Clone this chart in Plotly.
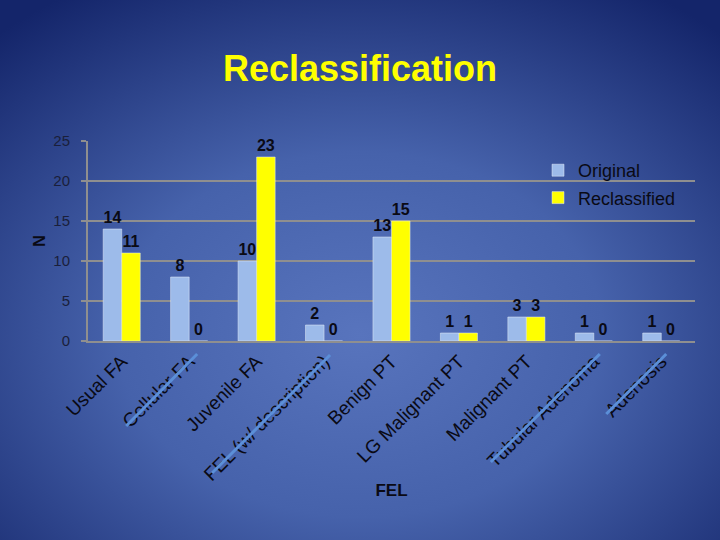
import base64
import plotly.graph_objects as go

categories = ["Usual FA", "Cellular FA", "Juvenile FA", "FEL (w/ description)",
              "Benign PT", "LG Malignant PT", "Malignant PT", "Tubular Adenoma", "Adenosis"]
original = [14, 8, 10, 2, 13, 1, 3, 1, 1]
reclassified = [11, 0, 23, 0, 15, 1, 3, 0, 0]
y_ticks = [0, 5, 10, 15, 20, 25]
struck = ["Cellular FA", "FEL (w/ description)", "Tubular Adenoma", "Adenosis"]

FONT = "Arial, Liberation Sans, sans-serif"
L, R, T, B = 88, 25, 141, 199
W, H = 720, 540
pw, ph = W - L - R, H - T - B

svg = f'''<svg xmlns="http://www.w3.org/2000/svg" width="{W}" height="{H}" preserveAspectRatio="none">
<defs><radialGradient id="g" cx="0.5" cy="0.62" r="0.75" fx="0.5" fy="0.62">
<stop offset="0" stop-color="#5874bd"/><stop offset="0.45" stop-color="#4662ab"/>
<stop offset="1" stop-color="#14256a"/></radialGradient></defs>
<rect width="{W}" height="{H}" fill="url(#g)"/></svg>'''
src = "data:image/svg+xml;base64," + base64.b64encode(svg.encode()).decode()

fig = go.Figure()
fig.add_trace(go.Bar(name="Original", x=categories, y=original, marker_color="#9dbbea",
                     legendgroup="a",
                     text=original, textposition="outside", cliponaxis=False,
                     textfont=dict(family=FONT, size=16, color="#0a0a14", weight="bold")))
fig.add_trace(go.Bar(name="Reclassified", x=categories, y=reclassified, marker_color="#ffff00",
                     legendgroup="b",
                     text=reclassified, textposition="outside", cliponaxis=False,
                     textfont=dict(family=FONT, size=16, color="#0a0a14", weight="bold")))

# strike-through decorations over some category labels (pixel offsets from tick, in paper units)
strikes = {"Cellular FA": (-63, -85, 8, -13), "FEL (w/ description)": (-112, -132, 6, -14),
           "Tubular Adenoma": (-103, -121, 6, -13), "Adenosis": (-55, -73, 5, -13)}
n = len(categories)
for c in struck:
    dx0, dy0, dx1, dy1 = strikes[c]
    cx = (categories.index(c) + 0.5) / n
    fig.add_shape(type="line", xref="paper", yref="paper",
                  x0=cx + dx0 / pw, y0=dy0 / ph, x1=cx + dx1 / pw, y1=dy1 / ph,
                  line=dict(color="#5b8fd8", width=3), layer="above")

fig.update_layout(
    width=W, height=H, margin=dict(l=L, r=R, t=T, b=B),
    paper_bgcolor="#2f4a92", plot_bgcolor="rgba(0,0,0,0)",
    images=[dict(source=src, xref="paper", yref="paper", x=-L / pw, y=1 + T / ph,
                 sizex=W / pw, sizey=H / ph, sizing="stretch", layer="below",
                 xanchor="left", yanchor="top")],
    title=dict(text="<b>Reclassification</b>", x=0.5, xref="container", xanchor="center",
               y=1 - 68 / H, yanchor="middle",
               font=dict(family=FONT, size=36, color="#ffff00")),
    barmode="group", bargap=0.45, bargroupgap=0,
    showlegend=True,
    legend=dict(x=(538 - L) / pw, y=1 - (152 - T) / ph, xanchor="left", yanchor="top",
                bgcolor="rgba(0,0,0,0)", font=dict(family=FONT, size=18, color="#0a0a14"),
                itemwidth=30, tracegroupgap=1),
    font=dict(family=FONT),
)
fig.update_xaxes(showline=True, linecolor="#8f8f8f", linewidth=2, tickangle=-45,
                 tickfont=dict(family=FONT, size=19, color="#0a0a14"),
                 title=dict(text="<b>FEL</b>", font=dict(family=FONT, size=17, color="#0a0a14"),
                            standoff=0))
fig.update_yaxes(range=[0, 25], tickvals=y_ticks, showline=True, linecolor="#8f8f8f",
                 linewidth=2, showgrid=True, gridcolor="#8f8f8f", gridwidth=1.5,
                 ticks="outside", ticklen=5, tickcolor="#8f8f8f", tickwidth=2,
                 zeroline=False, ticklabelstandoff=8,
                 tickfont=dict(family=FONT, size=15, color="#1a1f3a"),
                 title=dict(text="<b>N</b>", font=dict(family=FONT, size=16, color="#0a0a14"),
                            standoff=4))

fig.write_html("out.html")
